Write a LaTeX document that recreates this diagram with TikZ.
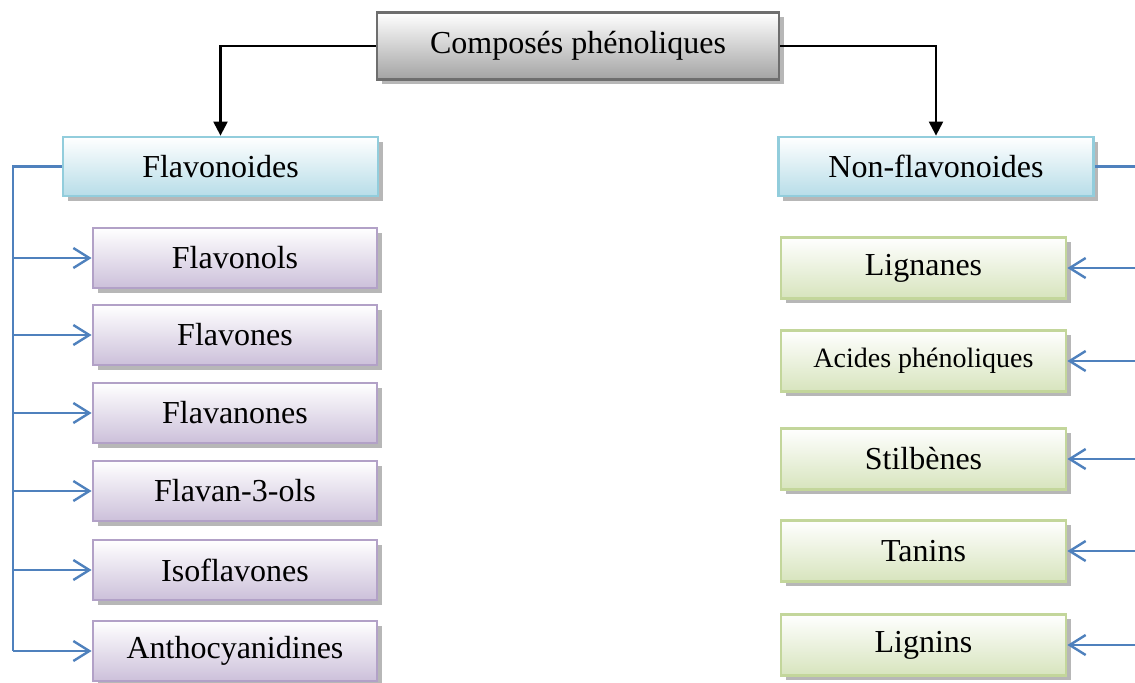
\documentclass[tikz,border=0pt]{standalone}
\usepackage{fontspec}
\setmainfont{Liberation Serif}
\usetikzlibrary{arrows.meta, positioning, shadows}

\definecolor{rootline}{HTML}{6E6E6E}
\definecolor{rootfill}{HTML}{A3A3A3}
\definecolor{grpline}{HTML}{92CDDC}
\definecolor{grpfill}{HTML}{B7DDE8}
\definecolor{flvline}{HTML}{B2A1C7}
\definecolor{flvfill}{HTML}{CCC0DA}
\definecolor{nonline}{HTML}{C3D69B}
\definecolor{nonfill}{HTML}{D7E4BD}
\definecolor{linkblue}{HTML}{4F81BD}

\begin{document}
\begin{tikzpicture}[x=0.5pt, y=-0.5pt,
    box/.style={draw, line width=1.4pt, inner sep=0pt, font=\fontsize{16}{19}\selectfont,
      drop shadow={shadow xshift=2.4pt, shadow yshift=-2.4pt, opacity=0.4, fill=black!70}},
    rootbox/.style={box, draw=rootline, line width=1.1pt, top color=white, bottom color=rootfill,
      minimum width=201pt, minimum height=33.5pt},
    groupbox/.style={box, draw=grpline, top color=white, bottom color=grpfill,
      minimum width=157.5pt, minimum height=29.5pt},
    flavbox/.style={box, draw=flvline, top color=white, bottom color=flvfill,
      minimum width=142pt, minimum height=30pt},
    nonbox/.style={box, draw=nonline, top color=white, bottom color=nonfill,
      minimum width=142.5pt, minimum height=30.5pt},
    treeline/.style={line width=1.1pt, black, -{Triangle[length=7pt,width=7pt]}},
    link/.style={line width=1.2pt, linkblue},
    linkarrow/.style={link, -{Straight Barb[length=8pt,width=10pt,line width=1.2pt]}}]
    \useasboundingbox (0,0) rectangle (1135,682);

    % top level
    \node[rootbox] (root) at (578,46) {Composés phénoliques};
    \node[groupbox] (flav) at (220.5,166.5) {Flavonoides};
    \node[groupbox] (nonflav) at (936,166.5) {Non-flavonoides};
    \draw[treeline] (root.west) -| (flav.north);
    \draw[treeline] (root.east) -| (nonflav.north);

    % flavonoides
    \foreach \name/\txt/\yy in {flavonols/Flavonols/258, flavones/Flavones/335,
        flavanones/Flavanones/413, flavanols/Flavan-3-ols/491,
        isoflav/Isoflavones/570, anthocy/Anthocyanidines/651}
      \node[flavbox] (\name) at (235,\yy) {\txt};
    \coordinate (ltrunk) at (13,166.5);
    \draw[link] (flav.west) -- (ltrunk) -- (ltrunk |- anthocy.west);
    \foreach \name in {flavonols, flavones, flavanones, flavanols, isoflav, anthocy}
      \draw[linkarrow] (ltrunk |- \name.west) -- (\name.west);

    % non-flavonoides
    \node[nonbox] (lignanes) at (923.5,268) {Lignanes};
    \node[nonbox, font=\fontsize{14}{17}\selectfont] (acides) at (923.5,361) {Acides phénoliques};
    \node[nonbox] (stilbenes) at (923.5,459) {Stilbènes};
    \node[nonbox] (tanins) at (923.5,551) {Tanins};
    \node[nonbox] (lignins) at (923.5,645) {Lignins};
    \coordinate (rtrunk) at (1135,166.5);
    \draw[link] (nonflav.east) -- (rtrunk);
    \foreach \name in {lignanes, acides, stilbenes, tanins, lignins}
      \draw[linkarrow] (rtrunk |- \name.east) -- (\name.east);
\end{tikzpicture}
\end{document}
